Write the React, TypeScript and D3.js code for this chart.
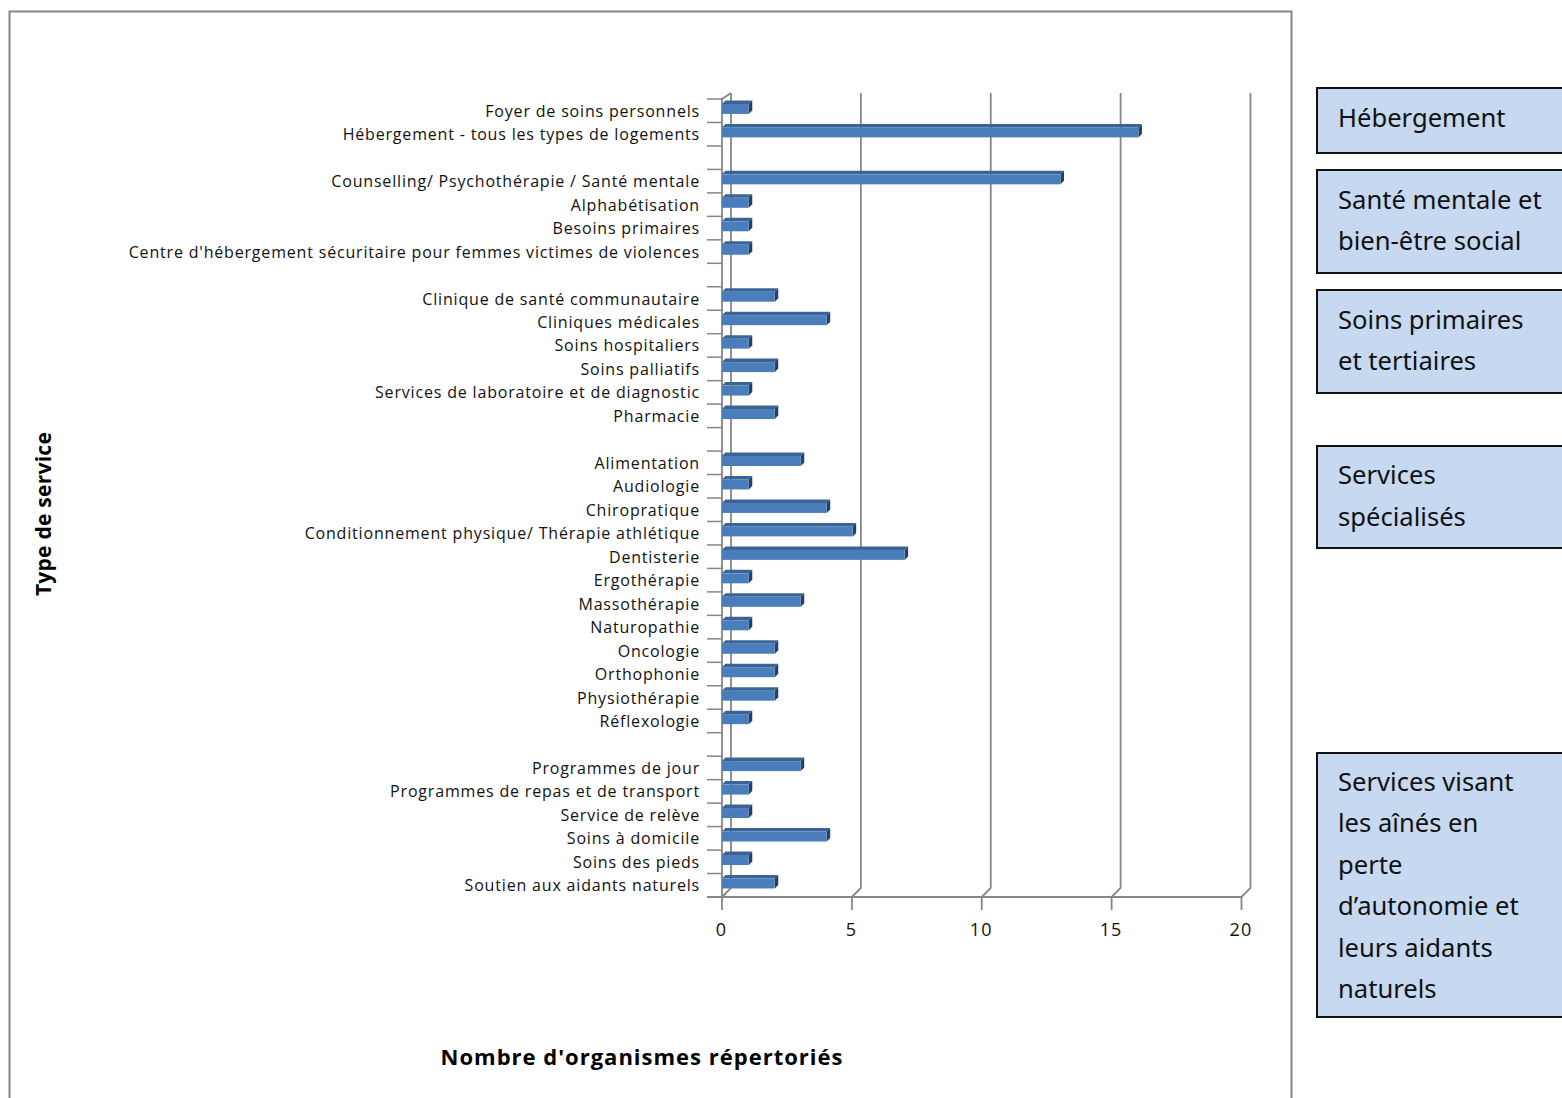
import React from "react";
import * as d3 from "d3";

const categories = ["Foyer de soins personnels","Hébergement - tous les types de logements","","Counselling/ Psychothérapie / Santé mentale","Alphabétisation","Besoins primaires","Centre d'hébergement sécuritaire pour femmes victimes de violences","","Clinique de santé communautaire","Cliniques médicales","Soins hospitaliers","Soins palliatifs","Services de laboratoire et de diagnostic","Pharmacie","","Alimentation","Audiologie","Chiropratique","Conditionnement physique/ Thérapie athlétique","Dentisterie","Ergothérapie","Massothérapie","Naturopathie","Oncologie","Orthophonie","Physiothérapie","Réflexologie","","Programmes de jour","Programmes de repas et de transport","Service de relève","Soins à domicile","Soins des pieds","Soutien aux aidants naturels"];
const values = [1,16,0,13,1,1,1,0,2,4,1,2,1,2,0,3,1,4,5,7,1,3,1,2,2,2,1,0,3,1,1,4,1,2];
const xTicks = [0,5,10,15,20];
const groupLabels = [["Hébergement"],["Santé mentale et","bien-être social"],["Soins primaires","et tertiaires"],["Services","spécialisés"],["Services visant","les aînés en","perte","d’autonomie et","leurs aidants","naturels"]];
const xTitle = "Nombre d'organismes répertoriés";
const yTitle = "Type de service";

const boxes = [{y0:88,y1:153,t:118,lh:41},{y0:170,y1:273,t:200,lh:41},{y0:290,y1:393,t:320,lh:41},{y0:446,y1:548,t:475,lh:42},{y0:753,y1:1017,t:782,lh:41.4}];
const GRAY = "#868686";
const FONT = "'Open Sans', sans-serif";
const BOXFONT = "'Noto Sans', Lato, sans-serif";
const DX = 9, DY = 9, FLOOR = 897, TOP = 102;

export default function App() {
  const x = d3.scaleLinear().domain([0,20]).range([722,1241.5]);
  const y = d3.scaleBand<number>().domain(d3.range(categories.length)).range([99,FLOOR]);
  const bw = y.bandwidth();
  const d = 3.5;
  const h = 10;
  return (
    <svg width={1562} height={1098} style={{position:"absolute",left:0,top:0,display:"block"}}>
      <rect width={1562} height={1098} fill="#fff"/>
      <path d="M9.5 1098V11.5H1291.5V1098" fill="none" stroke={GRAY} strokeWidth={2}/>
      {xTicks.map(t => (
        <path key={t} d={`M${x(t)} ${FLOOR}L${x(t)+DX} ${FLOOR-DY}V${TOP-DY}`} fill="none" stroke={GRAY} strokeWidth={1.8}/>
      ))}
      <path d={`M722 ${FLOOR}V99L731 ${TOP-DY}`} fill="none" stroke={GRAY} strokeWidth={1.8}/>
      <path d={`M707 ${FLOOR}H1241.5`} fill="none" stroke={GRAY} strokeWidth={1.8}/>
      {d3.range(categories.length).map(i => (
        <line key={i} x1={707} x2={722} y1={y(i)!} y2={y(i)!} stroke={GRAY} strokeWidth={1.5}/>
      ))}
      {xTicks.map(t => (
        <g key={t}>
          <line x1={x(t)} x2={x(t)} y1={FLOOR} y2={910} stroke={GRAY} strokeWidth={1.8}/>
          <text x={x(t)-0.5} y={936} textAnchor="middle" fontFamily={FONT} fontSize={18} letterSpacing={1.2} fill="#111">{t}</text>
        </g>
      ))}
      {values.map((v,i) => {
        if (!v) return null;
        const cy = y(i)! + bw/2;
        const top = cy - h/2 - 1.8;
        const x0 = x(0), x1 = x(v) + 0.8;
        return (
          <g key={i}>
            <path d={`M${x0} ${top}L${x0+d} ${top-d}H${x1+d}L${x1} ${top}Z`} fill="#3a6496"/>
            <path d={`M${x1} ${top}L${x1+d} ${top-d}V${top+h-d}L${x1} ${top+h}Z`} fill="#254061"/>
            <rect x={x0} y={top} width={x1-x0} height={h} fill="#4a7ebb"/>
          </g>
        );
      })}
      {categories.map((c,i) => c ? (
        <text key={i} x={700} y={y(i)!+bw/2+6} textAnchor="end" fontFamily={FONT} fontSize={16} letterSpacing={0.82} fill="#111">{c}</text>
      ) : null)}
      <text x={642} y={1065} textAnchor="middle" fontFamily={FONT} fontWeight={700} fontSize={22} letterSpacing={1} fill="#000">{xTitle}</text>
      <text transform="translate(51,514) rotate(-90)" textAnchor="middle" fontFamily={FONT} fontWeight={700} fontSize={21} letterSpacing={0.25} fill="#000">{yTitle}</text>
      {groupLabels.map((lines,i) => {
        const b = boxes[i];
        return (
          <g key={i}>
            <rect x={1317} y={b.y0} width={260} height={b.y1-b.y0} fill="#c6d9f1" stroke="#111" strokeWidth={2}/>
            {lines.map((l,j) => (
              <text key={j} x={1338} y={b.t+j*b.lh} dy="0.35em" fontFamily={BOXFONT} fontSize={25.6} fill="#111">{l}</text>
            ))}
          </g>
        );
      })}
    </svg>
  );
}
